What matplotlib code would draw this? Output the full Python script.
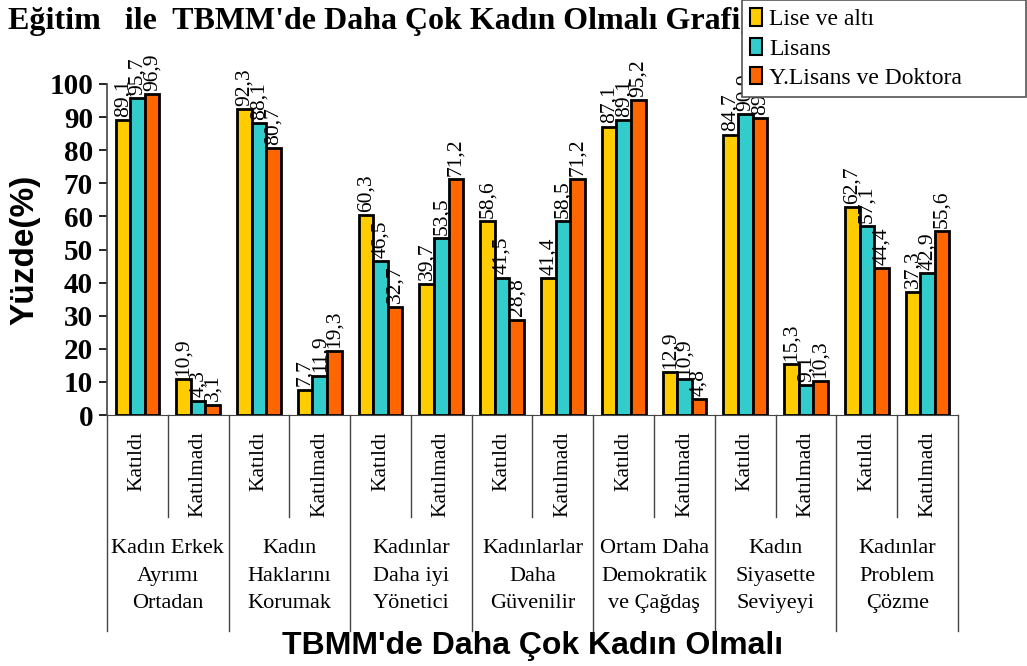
import numpy as np
import matplotlib.pyplot as plt
from matplotlib.patches import Patch
import matplotlib.transforms as mtransforms

# ------------------------------
# Dati
# ------------------------------
gruppi = ["Kadın Erkek\nAyrımı\nOrtadan", "Kadın\nHaklarını\nKorumak",
          "Kadınlar\nDaha iyi\nYönetici", "Kadınlarlar\nDaha\nGüvenilir",
          "Ortam Daha\nDemokratik\nve Çağdaş", "Kadın\nSiyasette\nSeviyeyi",
          "Kadınlar\nProblem\nÇözme"]
risposte = ["Katıldı", "Katılmadı"]

lise = [89.1, 10.9, 92.3, 7.7, 60.3, 39.7, 58.6, 41.4, 87.1, 12.9, 84.7, 15.3, 62.7, 37.3]
lisans = [95.7, 4.3, 88.1, 11.9, 46.5, 53.5, 41.5, 58.5, 89.1, 10.9, 90.9, 9.1, 57.1, 42.9]
ylisans = [96.9, 3.1, 80.7, 19.3, 32.7, 71.2, 28.8, 71.2, 95.2, 4.8, 89.7, 10.3, 44.4, 55.6]

serie = [("Lise ve altı", lise, "#FFCC00"),
         ("Lisans", lisans, "#33CCCC"),
         ("Y.Lisans ve Doktora", ylisans, "#FF6600")]

W, H = 1027, 666
serif = "Liberation Serif"
sans = "Liberation Sans"

fig = plt.figure(figsize=(W / 100, H / 100), dpi=100)
ax = fig.add_axes([107 / W, 1 - 415 / H, (958 - 107) / W, (415 - 84) / H])

x = np.arange(len(lise))
bw = 0.24
for i, (nome, vals, col) in enumerate(serie):
    xs = x + (i - 1) * bw
    ax.bar(xs, vals, width=bw, color=col, edgecolor="black", linewidth=2, label=nome, zorder=3)
    for xi, v in zip(xs, vals):
        ax.text(xi, v + 1, f"{v:.1f}".replace(".", ","), rotation=90, ha="center", va="bottom",
                fontsize=15.5, family=serif, clip_on=False)

ax.set_xlim(-0.5, len(lise) - 0.5)
ax.set_ylim(0, 100)
ax.set_yticks(np.arange(0, 101, 10))
ax.tick_params(axis="y", direction="out", length=6, width=1.2, labelsize=21, pad=4)
for t in ax.get_yticklabels():
    t.set_family(serif)
    t.set_fontweight("bold")
ax.set_xticks([])
for s in ["top", "right"]:
    ax.spines[s].set_visible(False)
ax.spines["left"].set_color("#444444")
ax.spines["bottom"].set_color("#444444")
ax.spines["left"].set_linewidth(1.2)

ax.set_ylabel("Yüzde(%)", fontsize=24, fontweight="bold", family=sans, labelpad=6)

# etichette sotto l'asse
tr = mtransforms.blended_transform_factory(ax.transData, fig.transFigure)
def fy(px):
    return 1 - px / H

for k in range(len(lise)):
    ax.text(k, fy(431), risposte[k % 2], rotation=90, ha="center", va="top",
            fontsize=15.5, family=serif, transform=tr)
for g in range(len(gruppi)):
    ax.plot([2 * g + 0.5] * 2, [fy(415), fy(517)], transform=tr, color="#444444", lw=1, clip_on=False)
    ax.text(2 * g + 0.5, fy(539), gruppi[g], ha="center", va="top", fontsize=16,
            family=serif, linespacing=1.62, transform=tr)
for g in range(len(gruppi) + 1):
    ax.plot([2 * g - 0.5] * 2, [fy(415), fy(631)], transform=tr, color="#444444", lw=1, clip_on=False)

fig.text(0.5 * (107 + 958) / W, fy(646), "TBMM'de Daha Çok Kadın Olmalı", ha="center", va="center",
         fontsize=23, fontweight="bold", family=sans)

fig.text(8 / W, fy(22), "Eğitim   ile  TBMM'de Daha Çok Kadın Olmalı Grafiği", ha="left", va="center",
         fontsize=23, fontweight="bold", family=serif, zorder=1)

handles = [Patch(facecolor=c, edgecolor="black", linewidth=1.5, label=n) for n, _, c in serie]
leg = fig.legend(handles=handles, loc="upper left", bbox_to_anchor=(742 / W, 0, 1 - 742 / W - 0.001, 1.0),
                 mode="expand", frameon=True, fancybox=False, framealpha=1, edgecolor="#555555",
                 prop={"family": serif, "size": 17}, handlelength=0.5, handleheight=0.75,
                 handletextpad=0.3, labelspacing=0.32, borderpad=0.35, borderaxespad=0)
leg.get_frame().set_linewidth(1.2)
leg.set_zorder(10)

fig.savefig("out.png", dpi=100)
